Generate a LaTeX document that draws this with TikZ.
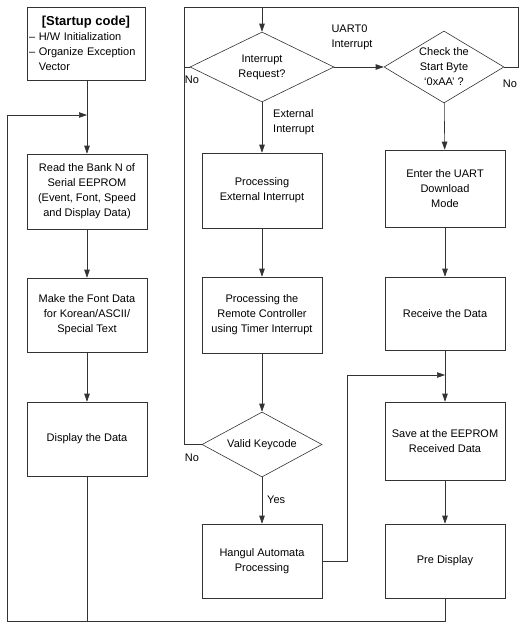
\documentclass[tikz,border=0pt]{standalone}
\usepackage{fontspec}
\setmainfont{Liberation Sans}
\usetikzlibrary{arrows.meta}
\usetikzlibrary{shapes.geometric}

\begin{document}
\begin{tikzpicture}[x=1pt,y=-1pt,
  font=\fontsize{11}{15}\selectfont,
  >={Triangle[length=8pt,width=5.5pt]},
  flowbox/.style={draw=black!80, line width=.6pt, rectangle, minimum width=120pt, minimum height=74pt, align=center, inner sep=2pt},
  decision/.style={draw=black!80, line width=.6pt, diamond, align=center, inner sep=0pt},
  link/.style={draw=black!80, line width=.6pt},
  lbl/.style={align=left, inner sep=1pt}]
\useasboundingbox (0,0) rectangle (520,624);

% left column
\node[flowbox, minimum width=118pt, minimum height=73pt, text width=114pt, align=left, inner sep=1pt] (start) at (86,43.5)
  {\makebox[\linewidth]{\bfseries\fontsize{13}{15}\selectfont [Startup code]}\\
   – H/W Initialization\\
   – Organize Exception\\
   \phantom{– }Vector};
\node[flowbox, minimum height=75pt] (read) at (87,191.5) {Read the Bank N of\\Serial EEPROM\\(Event, Font, Speed\\and Display Data)};
\node[flowbox] (font) at (87,315) {Make the Font Data\\for Korean/ASCII/\\Special Text};
\node[flowbox] (disp) at (87,439) {Display the Data};

% middle column
\node[decision, aspect=2.06, minimum width=144pt, minimum height=70pt] (intr) at (262,67) {Interrupt\\Request?};
\node[flowbox, minimum height=75pt] (ext) at (262,190.5) {Processing\\External Interrupt};
\node[flowbox, minimum height=76pt] (remote) at (262,315) {Processing the\\Remote Controller\\using Timer Interrupt};
\node[decision, aspect=1.85, minimum width=120pt, minimum height=65pt] (valid) at (262,444.5) {Valid Keycode};
\node[flowbox] (hangul) at (262,561) {Hangul Automata\\Processing};

% right column
\node[decision, aspect=1.67, minimum width=120pt, minimum height=72pt] (check) at (444,67) {Check the\\Start Byte\\`0xAA' ?};
\node[flowbox, minimum height=77pt] (uart) at (445,188.5) {Enter the UART\\Download\\Mode};
\node[flowbox, minimum height=73pt] (recv) at (445,313.5) {Receive the Data};
\node[flowbox, minimum height=78pt] (save) at (445,441) {Save at the EEPROM\\Received Data};
\node[flowbox] (pre) at (445,561) {Pre Display};

% labels
\node[lbl] (uartlbl) at (352,37) {UART0\\Interrupt};
\node[lbl, anchor=west] (extlbl) at (272,122) {External\\Interrupt};
\node[lbl] (noI) at (192,80) {No};
\node[lbl] (noC) at (510,84) {No};
\node[lbl] (noV) at (192,458) {No};
\node[lbl, anchor=west] (yes) at (266,500) {Yes};

% turning points
\coordinate (bot) at (7,621);
\coordinate (fb) at (87,115);
\coordinate (lp) at (184,7);
\coordinate (rp) at (518,7);
\coordinate (mg) at (347,375);

% main flow
\draw[link,->] (start.south -| read) -- (read);
\draw[link,->] (read) -- (font);
\draw[link,->] (font) -- (disp);
\draw[link] (disp) -- (disp.south |- bot);
\draw[link,->] (pre) -- (pre.south |- bot) -- (bot) -- (bot |- fb) -- (fb);

\draw[link,->] (intr) -- (ext);
\draw[link,->] (ext) -- (remote);
\draw[link,->] (remote) -- (valid);
\draw[link,->] (valid) -- (hangul);
\draw[link,->] (valid.west) -- (valid.west -| lp) -- (lp) -- (intr.north |- lp) -- (intr);
\draw[link] (intr.west) -- (intr.west -| lp);
\draw[link,->] (intr) -- (check);
\draw[link] (check.east) -- (check.east -| rp) -- (rp) -- (intr.north |- lp);

\draw[link,->] (check) -- (uart);
\draw[link,->] (uart) -- (recv);
\draw[link,->] (recv) -- (save);
\draw[link,->] (save) -- (pre);
\draw[link,->] (hangul.east) -- (hangul.east -| mg) -- (mg) -- (recv.south |- mg);
\end{tikzpicture}
\end{document}
